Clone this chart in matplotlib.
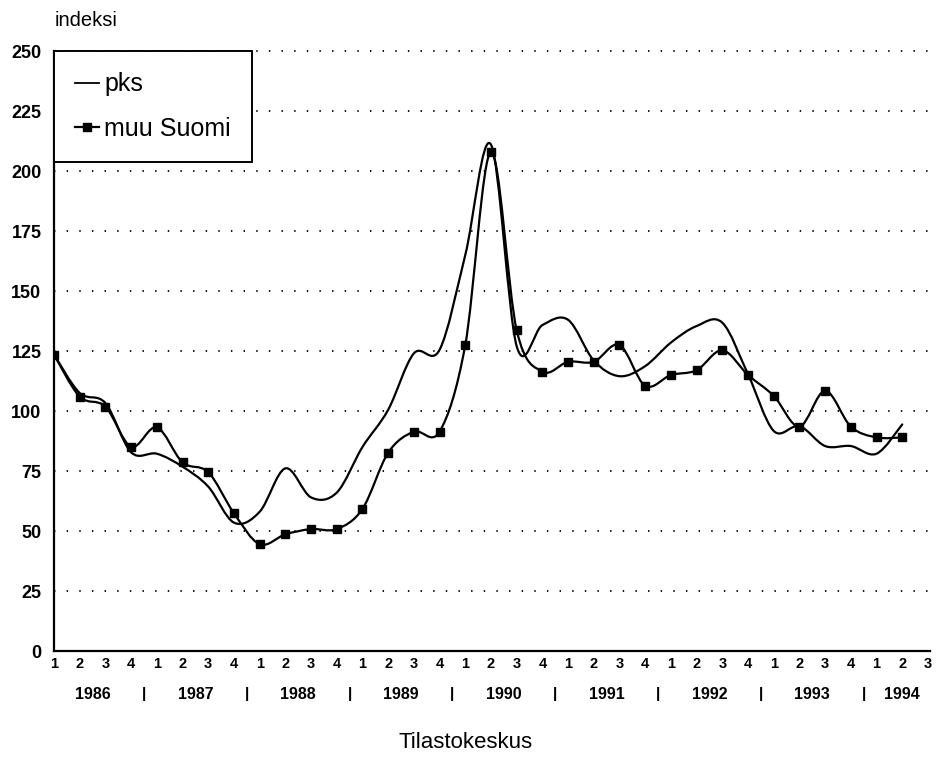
import matplotlib
matplotlib.use("Agg")
import matplotlib.pyplot as plt
from matplotlib.path import Path
from matplotlib.patches import PathPatch
from matplotlib.lines import Line2D
import numpy as np

# ---- data ----
years = ["1986", "1987", "1988", "1989", "1990", "1991", "1992", "1993", "1994"]
quarters_per_year = [4, 4, 4, 4, 4, 4, 4, 4, 3]
quarter_labels = ["1", "2", "3", "4"] * 8 + ["1", "2", "3"]
yticks = [0, 25, 50, 75, 100, 125, 150, 175, 200, 225, 250]

pks = [123.5, 107.5, 103.3, 82.8,
       82.2, 76.8, 68.5, 53.5,
       58.0, 76.1, 64.0, 66.0,
       85.0, 100.5, 124.0, 125.5,
       165.0, 211.0, 127.0, 135.8,
       138.0, 121.0, 114.5, 118.7,
       128.5, 135.4, 136.8, 115.3,
       91.7, 93.7, 85.4, 85.4,
       82.2, 94.4]
muu_suomi = [123.5, 106.0, 101.8, 85.1,
             93.2, 78.6, 74.5, 57.4,
             44.5, 48.6, 50.8, 50.8,
             59.2, 82.6, 91.4, 91.4,
             127.5, 208.0, 133.7, 116.4,
             120.5, 120.5, 127.5, 110.5,
             115.0, 117.0, 125.3, 115.0,
             106.3, 93.5, 108.4, 93.5,
             89.0, 89.0]

FONT = "Liberation Sans"
plt.rcParams["font.family"] = [FONT, "DejaVu Sans"]

fig = plt.figure(figsize=(9.39, 7.76), dpi=100)
ax = fig.add_axes([54 / 939, 1 - 651 / 776, (930 - 54) / 939, (651 - 51) / 776])


def smooth_path(xs, ys):
    """Excel-like smoothed line: Catmull-Rom segments as cubic Bezier curves."""
    pts = np.column_stack([xs, ys]).astype(float)
    n = len(pts)
    verts = [pts[0]]
    codes = [Path.MOVETO]
    for i in range(n - 1):
        p0 = pts[i - 1] if i > 0 else pts[i]
        p1 = pts[i]
        p2 = pts[i + 1]
        p3 = pts[i + 2] if i + 2 < n else pts[i + 1]
        c1 = p1 + (p2 - p0) / 6.0
        c2 = p2 - (p3 - p1) / 6.0
        verts += [c1, c2, p2]
        codes += [Path.CURVE4] * 3
    return Path(verts, codes)


x = np.arange(len(pks))
for series in (pks, muu_suomi):
    patch = PathPatch(smooth_path(x, series), fill=False, edgecolor="black",
                      linewidth=1.6, capstyle="round", joinstyle="round", zorder=3)
    ax.add_patch(patch)
ax.plot(x, muu_suomi, linestyle="none", marker="s", markersize=5.8,
        color="black", zorder=4)

# axes
ax.set_xlim(0, 34.08)
ax.set_ylim(0, 250)
ax.set_yticks(yticks)
ax.set_yticklabels([str(v) for v in yticks], fontsize=13, fontweight="bold")
ax.set_xticks(np.arange(len(quarter_labels)))
ax.set_xticklabels(quarter_labels, fontsize=10.5, fontweight="bold")
ax.tick_params(axis="both", length=0)
ax.tick_params(axis="y", pad=9)
ax.tick_params(axis="x", pad=4)
for s in ("top", "right"):
    ax.spines[s].set_visible(False)
for s in ("left", "bottom"):
    ax.spines[s].set_linewidth(1.6)
    ax.spines[s].set_color("black")

for v in yticks[1:]:
    ax.axhline(v, color="black", linewidth=1.3, linestyle=(0, (0.8, 6.2)),
               xmax=1.005, clip_on=False, zorder=1)

# year labels and separators
start = 0
for yr, nq in zip(years, quarters_per_year):
    center = start + (nq - 1) / 2
    ax.text(center, -0.072, yr, transform=ax.get_xaxis_transform(),
            ha="center", va="center", fontsize=11.5, fontweight="bold")
    if start + nq < len(quarter_labels):
        ax.text(start + nq - 0.5, -0.072, "|", transform=ax.get_xaxis_transform(),
                ha="center", va="center", fontsize=11, fontweight="bold")
    start += nq

fig.text(55 / 939, 1 - 20 / 776, "indeksi", ha="left", va="center", fontsize=14.5)
fig.text(466 / 939, 1 - 742 / 776, "Tilastokeskus", ha="center", va="center",
         fontsize=16)

handles = [Line2D([], [], color="black", linewidth=1.3),
           Line2D([], [], color="black", linewidth=1.6, marker="s", markersize=5.5)]
leg = ax.legend(handles, ["pks", "muu Suomi"], loc="upper left",
                bbox_to_anchor=(0, 1), borderaxespad=0, fontsize=18,
                handlelength=0.95, handletextpad=0.2, labelspacing=0.82,
                borderpad=0.85, fancybox=False, framealpha=1, edgecolor="black")
leg.get_frame().set_linewidth(1.4)
leg.set_zorder(5)

fig.savefig("out.png", dpi=100, facecolor="white")
